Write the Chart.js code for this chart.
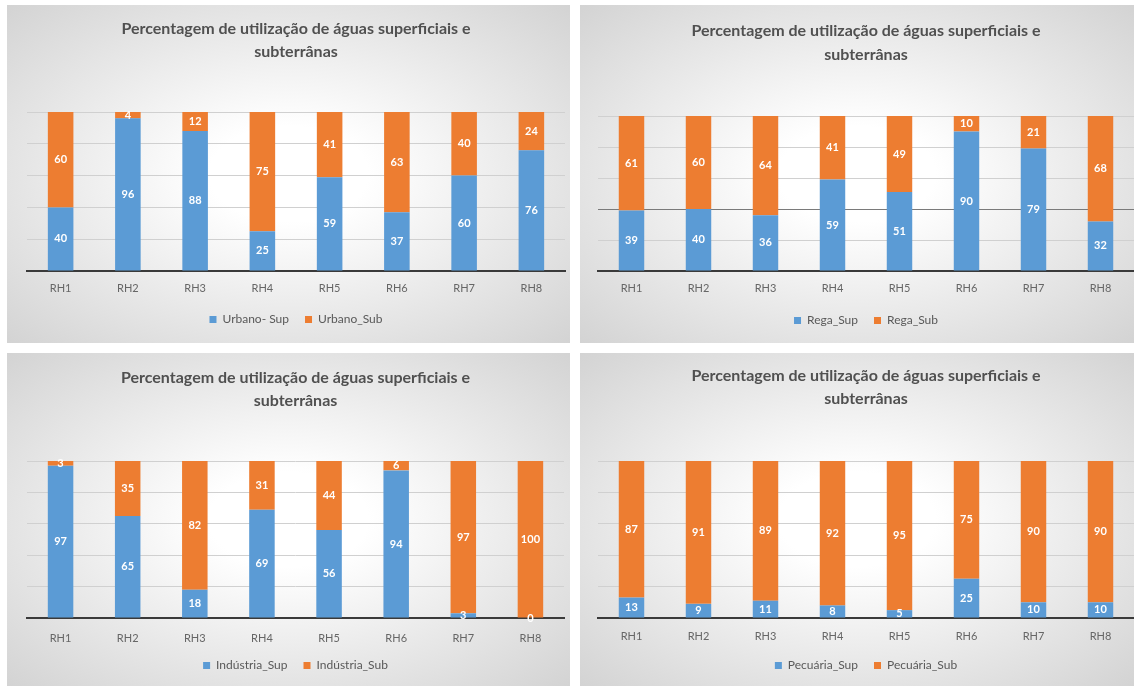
<!DOCTYPE html>
<html>
<head>
<meta charset="utf-8">
<script src="https://cdn.jsdelivr.net/npm/chart.js@4.4.1/dist/chart.umd.min.js"></script>
<style>
    body { margin: 0; background: #fff; width: 1134px; height: 686px; position: relative; overflow: hidden; }
    .panel { position: absolute; background: radial-gradient(ellipse at 50% 50%, #ffffff 20%, #d3d3d3 100%); }
</style>
</head>
<body>
<div class="panel" style="left:7px;top:5px;width:563px;height:338px"><canvas id="urbano"></canvas></div>
<div class="panel" style="left:580px;top:5px;width:554px;height:338px"><canvas id="rega"></canvas></div>
<div class="panel" style="left:7px;top:353px;width:563px;height:333px"><canvas id="industria"></canvas></div>
<div class="panel" style="left:580px;top:353px;width:554px;height:333px"><canvas id="pecuaria"></canvas></div>
<script>
// dados (percentagens por região hidrográfica)
var categories = ['RH1', 'RH2', 'RH3', 'RH4', 'RH5', 'RH6', 'RH7', 'RH8'];
var titleText = ['Percentagem de utilização de águas superficiais e', 'subterrânas'];

var urbanoSup = [40, 96, 88, 25, 59, 37, 60, 76];
var urbanoSub = [60, 4, 12, 75, 41, 63, 40, 24];

var regaSup = [39, 40, 36, 59, 51, 90, 79, 32];
var regaSub = [61, 60, 64, 41, 49, 10, 21, 68];

var industriaSup = [97, 65, 18, 69, 56, 94, 3, 0];
var industriaSub = [3, 35, 82, 31, 44, 6, 97, 100];

var pecuariaSup = [13, 9, 11, 8, 5, 25, 10, 10];
var pecuariaSub = [87, 91, 89, 92, 95, 75, 90, 90];

var blue = '#5b9bd5';
var orange = '#ed7d31';
var font = 'Lato';

// rótulos brancos no meio de cada segmento
var valueLabels = {
    id: 'valueLabels',
    afterDatasetsDraw: function (chart) {
        var ctx = chart.ctx;
        ctx.save();
        ctx.font = 'bold 11px ' + font;
        ctx.fillStyle = '#ffffff';
        ctx.textAlign = 'center';
        ctx.textBaseline = 'middle';
        chart.data.datasets.forEach(function (ds, i) {
            chart.getDatasetMeta(i).data.forEach(function (bar, j) {
                var p = bar.getProps(['x', 'y', 'base'], true);
                ctx.fillText(ds.data[j], p.x, (p.y + p.base) / 2);
            });
        });
        ctx.restore();
    }
};

function drawPanel(id, names, sup, sub, box) {
    var legPad = 16;
    var padBottom = box.h - (box.legend + 15.5);
    var legendTop = box.legend + 15.5 - 22 - legPad;
    var titleTop = box.title - 12;
    new Chart(document.getElementById(id), {
        type: 'bar',
        data: {
            labels: categories,
            datasets: [
                { label: names[0], data: sup, backgroundColor: blue, barPercentage: 0.38, categoryPercentage: 1 },
                { label: names[1], data: sub, backgroundColor: orange, barPercentage: 0.38, categoryPercentage: 1 }
            ]
        },
        options: {
            responsive: true,
            maintainAspectRatio: false,
            animation: false,
            layout: { padding: { left: box.left, right: box.w - box.right, top: 0, bottom: padBottom } },
            plugins: {
                title: {
                    display: true,
                    text: titleText,
                    color: '#505050',
                    font: { family: font, size: 16, lineHeight: 1.45 },
                    padding: { top: titleTop, bottom: box.top - titleTop - 46.4 }
                },
                legend: {
                    position: 'bottom',
                    labels: { boxWidth: 7, boxHeight: 7, padding: legPad, color: '#595959', font: { family: font, size: 12 } }
                },
                tooltip: { enabled: false }
            },
            scales: {
                x: {
                    stacked: true,
                    grid: { display: false, drawTicks: false },
                    border: { color: '#3a3a3a', width: 2 },
                    ticks: { color: '#666666', font: { family: font, size: 11 }, padding: box.tick - box.bottom - 6.6 },
                    afterFit: function (s) { s.height = legendTop - box.bottom; }
                },
                y: {
                    stacked: true,
                    min: 0,
                    max: 100,
                    ticks: { display: false, stepSize: 20 },
                    border: { display: false },
                    grid: {
                        drawTicks: false,
                        color: function (c) {
                            if (c.tick.value === 0) return 'rgba(0,0,0,0)';
                            if (box.dark && c.tick.value === box.dark) return '#7a7a7a';
                            return '#d0d0d0';
                        }
                    }
                }
            }
        },
        plugins: [valueLabels]
    });
}

drawPanel('urbano', ['Urbano- Sup', 'Urbano_Sub'], urbanoSup, urbanoSub,
    { w: 563, h: 338, left: 20, right: 558, top: 107, bottom: 266, title: 24.3, tick: 283, legend: 315 });
drawPanel('rega', ['Rega_Sup', 'Rega_Sub'], regaSup, regaSub,
    { w: 554, h: 338, left: 18, right: 554, top: 111, bottom: 266, title: 26.7, tick: 283, legend: 316, dark: 40 });
drawPanel('industria', ['Indústria_Sup', 'Indústria_Sub'], industriaSup, industriaSub,
    { w: 563, h: 333, left: 20, right: 557, top: 108, bottom: 265, title: 25, tick: 285, legend: 313 });
drawPanel('pecuaria', ['Pecuária_Sup', 'Pecuária_Sub'], pecuariaSup, pecuariaSub,
    { w: 554, h: 333, left: 18, right: 554, top: 108, bottom: 265, title: 23.3, tick: 283, legend: 313 });
</script>
</body>
</html>
